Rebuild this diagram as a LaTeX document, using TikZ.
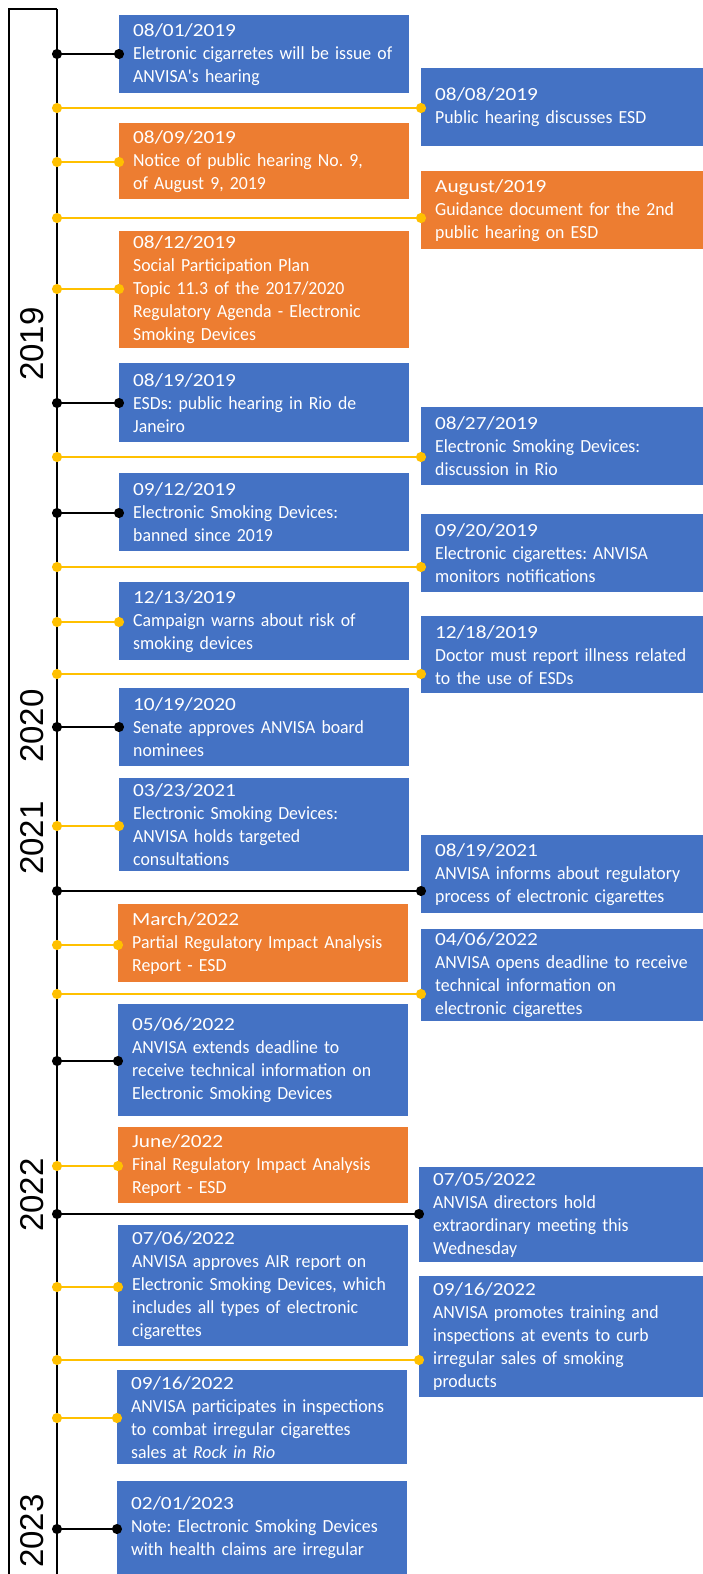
\documentclass[tikz,border=0pt]{standalone}
\usepackage{fontspec}
\setmainfont{Carlito}[WordSpace=0.8, FakeStretch=0.96]
\newfontfamily\datefont{Carlito}[FakeStretch=1.15]
\newfontfamily\yearfont{Liberation Sans}
\newcommand{\when}[1]{{\datefont #1}}
\usetikzlibrary{arrows.meta}
\definecolor{evblue}{HTML}{4472C4}
\definecolor{evorange}{HTML}{ED7D31}
\definecolor{evyellow}{HTML}{FFC000}
\hyphenpenalty 10000
\frenchspacing

\begin{document}
\begin{tikzpicture}[x=1pt, y=-1pt,
        ev/.style={rectangle, anchor=north west, text=white, align=left, inner xsep=14pt, inner ysep=0pt, text width=262pt,
            font=\fontsize{18.5}{23}\selectfont},
        bl/.style={ev, fill=evblue},
        og/.style={ev, fill=evorange},
        yr/.style={rotate=90, font=\yearfont\fontsize{33}{33}\selectfont},
        blk/.style={draw=black, line width=1.6pt, {Circle[length=10pt]}-{Circle[length=10pt]}, shorten <=-5pt, shorten >=-5pt},
        ylw/.style={blk, draw=evyellow, line width=2pt}]
                \useasboundingbox (0,0) rectangle (702,1574);

                % Frame and time axis
                \coordinate (ttop) at (57,9);
                \coordinate (tbot) at (57,1574);
                \draw[line width=1.2pt] (ttop) -- (9,9) -- (9,1574);
                \draw[line width=1.6pt] (ttop) -- (tbot);

                % Years
                \node[yr] (y2019) at (32,344) {2019};
                \node[yr] (y2020) at (32,726) {2020};
                \node[yr] (y2021) at (32,838) {2021};
                \node[yr] (y2022) at (32,1195) {2022};
                \node[yr] (y2023) at (32,1531) {2023};

                % Nodes
                \node[bl, minimum height=78pt] at (119,15) (l1) {\when{08/01/2019}\\Eletronic cigarretes will be issue of\\ANVISA\textquotesingle s hearing};
                \node[bl, minimum height=78pt] at (421,68) (r1) {\when{08/08/2019}\\Public hearing discusses ESD};
                \node[og, minimum height=76pt] at (119,123) (l2) {\when{08/09/2019}\\Notice of public hearing No. 9,\\of August 9, 2019};
                \node[og, minimum height=78pt] at (421,171) (r2) {\when{August/2019}\\Guidance document for the 2nd\\public hearing on ESD};
                \node[og, minimum height=117pt] at (119,231) (l3) {\when{08/12/2019}\\Social Participation Plan\\Topic 11.3 of the 2017/2020\\Regulatory Agenda - Electronic\\Smoking Devices};
                \node[bl, minimum height=79pt] at (119,363) (l4) {\when{08/19/2019}\\ESDs: public hearing in Rio de\\Janeiro};
                \node[bl, minimum height=78pt] at (421,407) (r3) {\when{08/27/2019}\\Electronic Smoking Devices:\\discussion in Rio};
                \node[bl, minimum height=78pt] at (119,473) (l5) {\when{09/12/2019}\\Electronic Smoking Devices:\\banned since 2019};
                \node[bl, minimum height=78pt] at (421,514) (r4) {\when{09/20/2019}\\Electronic cigarettes: ANVISA\\monitors notifications};
                \node[bl, minimum height=78pt] at (119,582) (l6) {\when{12/13/2019}\\Campaign warns about risk of\\smoking devices};
                \node[bl, minimum height=77pt] at (421,616) (r5) {\when{12/18/2019}\\Doctor must report illness related\\to the use of ESDs};
                \node[bl, minimum height=78pt] at (119,688) (l7) {\when{10/19/2020}\\Senate approves ANVISA board\\nominees};
                \node[bl, minimum height=93pt] at (119,778) (l8) {\when{03/23/2021}\\Electronic Smoking Devices:\\ANVISA holds targeted\\consultations};
                \node[bl, minimum height=78pt] at (421,835) (r6) {\when{08/19/2021}\\ANVISA informs about regulatory\\process of electronic cigarettes};
                \node[og, minimum height=78pt] at (118,904) (l9) {\when{March/2022}\\Partial Regulatory Impact Analysis\\Report - ESD};
                \node[bl, minimum height=92pt] at (421,929) (r7) {\when{04/06/2022}\\ANVISA opens deadline to receive\\technical information on\\electronic cigarettes};
                \node[bl, minimum height=112pt] at (118,1004) (l10) {\when{05/06/2022}\\ANVISA extends deadline to\\receive technical information on\\Electronic Smoking Devices};
                \node[og, minimum height=76pt] at (118,1127) (l11) {\when{June/2022}\\Final Regulatory Impact Analysis\\Report - ESD};
                \node[bl, minimum height=95pt] at (419,1167) (r8) {\when{07/05/2022}\\ANVISA directors hold\\extraordinary meeting this\\Wednesday};
                \node[bl, minimum height=121pt] at (118,1225) (l12) {\when{07/06/2022}\\ANVISA approves AIR report on\\Electronic Smoking Devices, which\\includes all types of electronic\\cigarettes};
                \node[bl, minimum height=121pt] at (419,1276) (r9) {\when{09/16/2022}\\ANVISA promotes training and\\inspections at events to curb\\irregular sales of smoking\\products};
                \node[bl, minimum height=94pt] at (117,1370) (l13) {\when{09/16/2022}\\ANVISA participates in inspections\\to combat irregular cigarettes\\sales at \textit{Rock in Rio}};
                \node[bl, minimum height=93pt] at (117,1481) (l14) {\when{02/01/2023}\\Note: Electronic Smoking Devices\\with health claims are irregular};

                % Edges
                \coordinate (c1) at (57,54);
                \coordinate (c2) at (57,108);
                \coordinate (c3) at (57,162);
                \coordinate (c4) at (57,218);
                \coordinate (c5) at (57,289);
                \coordinate (c6) at (57,403);
                \coordinate (c7) at (57,457);
                \coordinate (c8) at (57,513);
                \coordinate (c9) at (57,567);
                \coordinate (c10) at (57,622);
                \coordinate (c11) at (57,674);
                \coordinate (c12) at (57,727);
                \coordinate (c13) at (57,826);
                \coordinate (c14) at (57,891);
                \coordinate (c15) at (57,945);
                \coordinate (c16) at (57,994);
                \coordinate (c17) at (57,1061);
                \coordinate (c18) at (57,1166);
                \coordinate (c19) at (57,1214);
                \coordinate (c20) at (57,1287);
                \coordinate (c21) at (57,1360);
                \coordinate (c22) at (57,1418);
                \coordinate (c23) at (57,1529);

                \draw[blk] (c1) -- (c1 -| l1.west);
                \draw[ylw] (c2) -- (c2 -| r1.west);
                \draw[ylw] (c3) -- (c3 -| l2.west);
                \draw[ylw] (c4) -- (c4 -| r2.west);
                \draw[ylw] (c5) -- (c5 -| l3.west);
                \draw[blk] (c6) -- (c6 -| l4.west);
                \draw[ylw] (c7) -- (c7 -| r3.west);
                \draw[blk] (c8) -- (c8 -| l5.west);
                \draw[ylw] (c9) -- (c9 -| r4.west);
                \draw[ylw] (c10) -- (c10 -| l6.west);
                \draw[ylw] (c11) -- (c11 -| r5.west);
                \draw[blk] (c12) -- (c12 -| l7.west);
                \draw[ylw] (c13) -- (c13 -| l8.west);
                \draw[blk] (c14) -- (c14 -| r6.west);
                \draw[ylw] (c15) -- (c15 -| l9.west);
                \draw[ylw] (c16) -- (c16 -| r7.west);
                \draw[blk] (c17) -- (c17 -| l10.west);
                \draw[ylw] (c18) -- (c18 -| l11.west);
                \draw[blk] (c19) -- (c19 -| r8.west);
                \draw[ylw] (c20) -- (c20 -| l12.west);
                \draw[ylw] (c21) -- (c21 -| r9.west);
                \draw[ylw] (c22) -- (c22 -| l13.west);
                \draw[blk] (c23) -- (c23 -| l14.west);
            \end{tikzpicture}
\end{document}
